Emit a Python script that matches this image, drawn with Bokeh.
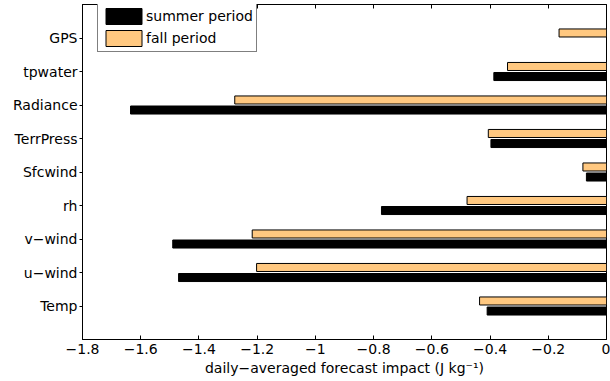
from bokeh.plotting import figure
from bokeh.models import (ColumnDataSource, Range1d, FixedTicker, LinearAxis,
                          Legend, LegendItem, CustomJSTickFormatter)
from bokeh.transform import dodge
from bokeh.embed import file_html
from bokeh.resources import INLINE

# ---- data ----
categories = ["Temp", "u\u2212wind", "v\u2212wind", "rh", "Sfcwind",
              "TerrPress", "Radiance", "tpwater", "GPS"]
summer_period = [-0.410, -1.470, -1.490, -0.773, -0.069, -0.397, -1.635, -0.387, 0.0]
fall_period = [-0.436, -1.202, -1.217, -0.479, -0.081, -0.406, -1.277, -0.340, -0.163]
xtick_values = [-1.8, -1.6, -1.4, -1.2, -1.0, -0.8, -0.6, -0.4, -0.2, 0.0]
xtick_labels = ["\u22121.8", "\u22121.6", "\u22121.4", "\u22121.2", "\u22121",
                "\u22120.8", "\u22120.6", "\u22120.4", "\u22120.2", "0"]
x_label = "daily\u2212averaged forecast impact (J kg\u207b\u00b9)"

positions = list(range(1, len(categories) + 1))
src = ColumnDataSource(dict(y=positions, summer=summer_period, fall=fall_period))

FONT = "DejaVu Sans"
FS = "14px"
ORANGE = "#FFC880"

p = figure(frame_width=524, frame_height=335, output_backend="svg",
           toolbar_location=None, x_range=Range1d(-1.8, 0), y_range=Range1d(0, 10),
           min_border_left=82, min_border_right=4, min_border_top=4,
           min_border_bottom=42)
p.background_fill_color = "white"
p.border_fill_color = "white"
p.outline_line_color = "black"
p.outline_line_width = 1
p.xgrid.visible = False
p.ygrid.visible = False

r_summer = p.hbar(y=dodge("y", -0.15, range=p.y_range), right="summer", left=0,
                  height=0.24, source=src, fill_color="black", line_color="black",
                  line_width=1)
r_fall = p.hbar(y=dodge("y", 0.15, range=p.y_range), right="fall", left=0,
                height=0.24, source=src, fill_color=ORANGE, line_color="black",
                line_width=1)

# x axis
xa = p.xaxis[0]
xa.ticker = FixedTicker(ticks=xtick_values)
xa.major_label_overrides = {v: l for v, l in zip(xtick_values, xtick_labels)}
xa.major_tick_in = 4
xa.major_tick_out = 0
xa.minor_tick_line_color = None
xa.major_label_text_font = FONT
xa.major_label_text_font_size = FS
xa.major_label_text_color = "black"
xa.major_label_standoff = 4
xa.axis_label = x_label
xa.axis_label_text_font = FONT
xa.axis_label_text_font_size = FS
xa.axis_label_text_font_style = "normal"
xa.axis_label_text_color = "black"
xa.axis_label_standoff = 3
xa.axis_line_color = "black"

# y axis
ya = p.yaxis[0]
ya.ticker = FixedTicker(ticks=positions)
ya.major_label_overrides = {pos: c for pos, c in zip(positions, categories)}
ya.major_tick_in = 0
ya.major_tick_out = 3
ya.minor_tick_line_color = None
ya.major_label_text_font = FONT
ya.major_label_text_font_size = FS
ya.major_label_text_color = "black"
ya.major_label_standoff = 2
ya.axis_line_color = "black"

# top axis: ticks only
top = LinearAxis(ticker=FixedTicker(ticks=xtick_values),
                 formatter=CustomJSTickFormatter(code="return ''"),
                 major_tick_in=4, major_tick_out=0, minor_tick_line_color=None,
                 major_label_standoff=0, major_label_text_font_size="1px",
                 axis_line_color="black")
p.add_layout(top, "above")

legend = Legend(items=[LegendItem(label="summer period", renderers=[r_summer]),
                       LegendItem(label="fall period", renderers=[r_fall])],
                location=(15, 287))
legend.label_text_font = FONT
legend.label_text_font_size = FS
legend.label_text_color = "black"
legend.glyph_width = 45
legend.glyph_height = 20
legend.label_height = 20
legend.label_standoff = 0
legend.spacing = 2
legend.padding = 3
legend.margin = 0
legend.border_line_color = "black"
legend.border_line_width = 1
legend.background_fill_color = "white"
legend.background_fill_alpha = 1
p.add_layout(legend)

open("out.html", "w").write(file_html(p, INLINE))
